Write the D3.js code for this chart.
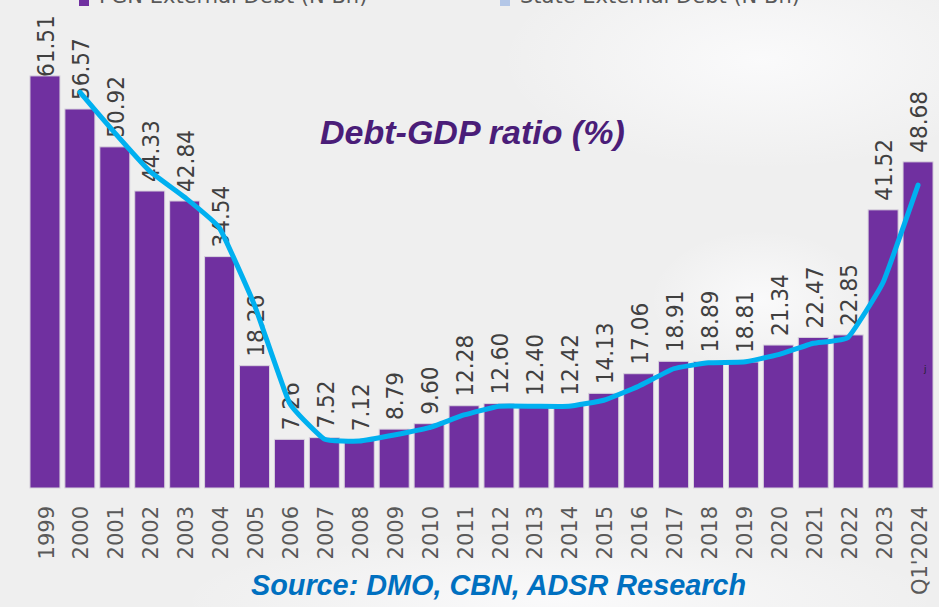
<!DOCTYPE html>
<html>
<head>
<meta charset="utf-8">
<script src="https://cdn.jsdelivr.net/npm/d3@7"></script>
<style>
  body { margin: 0; background: #f0f0f0; }
  svg { display: block; }
</style>
</head>
<body>
<div id="chart"></div>
<script>
// Categories and series
var years = ['1999', '2000', '2001', '2002', '2003', '2004', '2005', '2006', '2007', '2008',
    '2009', '2010', '2011', '2012', '2013', '2014', '2015', '2016', '2017', '2018',
    '2019', '2020', '2021', '2022', '2023', "Q1'2024"];
var barValues = [61.51, 56.57, 50.92, 44.33, 42.84, 34.54, 18.26, 7.26, 7.52, 7.12,
    8.79, 9.60, 12.28, 12.60, 12.40, 12.42, 14.13, 17.06, 18.91, 18.89,
    18.81, 21.34, 22.47, 22.85, 41.52, 48.68];
// Trend line (starts in 2000)
var lineYears = years.slice(1);
var lineValues = [59.1, 53.0, 47.3, 43.4, 38.8, 27.3, 12.7, 7.3, 7.0, 7.9,
    9.0, 10.9, 12.2, 12.2, 12.2, 13.1, 15.2, 17.8, 18.7, 18.8,
    19.9, 21.6, 22.5, 30.7, 45.2];
var legendLabels = ['FGN External Debt (N Bn)', 'State External Debt (N Bn)'];
var titleText = 'Debt-GDP ratio (%)';
var sourceText = 'Source: DMO, CBN, ADSR Research';

var width = 939, height = 607;

var svg = d3.select('#chart').append('svg')
    .attr('width', width)
    .attr('height', height);

// Background with soft light patches
var defs = svg.append('defs');
var rg = defs.append('radialGradient').attr('id', 'glow');
rg.append('stop').attr('offset', '0%').attr('stop-color', '#fbfbfc').attr('stop-opacity', 0.9);
rg.append('stop').attr('offset', '100%').attr('stop-color', '#fbfbfc').attr('stop-opacity', 0);

svg.append('rect').attr('width', width).attr('height', height).attr('fill', '#efefef');
svg.append('ellipse').attr('cx', 760).attr('cy', 60).attr('rx', 260).attr('ry', 110).attr('fill', 'url(#glow)');
svg.append('ellipse').attr('cx', 560).attr('cy', 600).attr('rx', 380).attr('ry', 70).attr('fill', 'url(#glow)');
svg.append('ellipse').attr('cx', 760).attr('cy', 300).attr('rx', 110).attr('ry', 70).attr('fill', 'url(#glow)');

// Scales
var x = d3.scaleBand()
    .domain(years)
    .range([27.5, 935.5])
    .paddingInner(0.141)
    .paddingOuter(0.0705);

var y = d3.scaleLinear()
    .domain([0, 72.84])
    .range([488, 0]);

// Bars
svg.selectAll('.bar')
    .data(barValues)
    .enter().append('rect')
    .attr('class', 'bar')
    .attr('x', function (d, i) { return x(years[i]); })
    .attr('y', function (d) { return y(d); })
    .attr('width', x.bandwidth())
    .attr('height', function (d) { return y(0) - y(d); })
    .attr('fill', '#7030a0')
    .attr('stroke', '#d8d3dd')
    .attr('stroke-width', 1);

// Value labels above bars (kept inside the top of the plot)
var labelSize = 23;
svg.selectAll('.vlabel')
    .data(barValues)
    .enter().append('text')
    .attr('class', 'vlabel')
    .attr('transform', function (d, i) {
        var cx = x(years[i]) + x.bandwidth() / 2 + 1;
        var yy = Math.max(y(d) - 9, 14 + 63);
        return 'translate(' + cx + ',' + yy + ') rotate(-90) scale(0.94,1)';
    })
    .attr('dy', '0.36em')
    .attr('text-anchor', 'start')
    .style('font', 'normal ' + labelSize + 'px "DejaVu Sans"')
    .attr('fill', '#404040')
    .text(function (d) { return d.toFixed(2); });

// Trend line
var line = d3.line()
    .x(function (d, i) { return x(lineYears[i]) + x.bandwidth() / 2; })
    .y(function (d) { return y(d); })
    .curve(d3.curveCardinal.tension(0.65));

svg.append('path')
    .datum(lineValues)
    .attr('d', line)
    .attr('fill', 'none')
    .attr('stroke', '#00b0f0')
    .attr('stroke-width', 5)
    .attr('stroke-linecap', 'round')
    .attr('stroke-linejoin', 'round');

// Year labels
svg.selectAll('.xlabel')
    .data(years)
    .enter().append('text')
    .attr('class', 'xlabel')
    .attr('transform', function (d) {
        return 'translate(' + (x(d) + x.bandwidth() / 2 + 1) + ',506) rotate(-90)';
    })
    .attr('dy', '0.36em')
    .attr('text-anchor', 'end')
    .style('font', 'normal 21px "DejaVu Sans"')
    .attr('fill', '#595959')
    .text(function (d) { return d; });

// Legend, cut off at the top edge as in the source image
var legendX = [79, 500];
var legendColors = ['#7030a0', '#b4c7e7'];
legendLabels.forEach(function (t, i) {
    svg.append('rect')
        .attr('x', legendX[i]).attr('y', -6)
        .attr('width', 10).attr('height', 12)
        .attr('fill', legendColors[i]);
    svg.append('text')
        .attr('x', legendX[i] + 20).attr('y', 3)
        .style('font', 'normal 21px "DejaVu Sans"')
        .attr('fill', '#595959')
        .text(t);
});

// Title
svg.append('text')
    .attr('x', 320).attr('y', 144)
    .style('font', 'italic bold 34px "Liberation Sans"')
    .attr('fill', '#4a1d78')
    .text(titleText);

// Source
svg.append('text')
    .attr('x', 251).attr('y', 595)
    .style('font', 'italic bold 28.8px "Liberation Sans"')
    .attr('fill', '#0070c0')
    .text(sourceText);

// stray mark at right edge
svg.append('text')
    .attr('x', 924).attr('y', 372)
    .style('font', 'normal 9px "DejaVu Sans"')
    .attr('fill', '#222')
    .text('j');
</script>
</body>
</html>
